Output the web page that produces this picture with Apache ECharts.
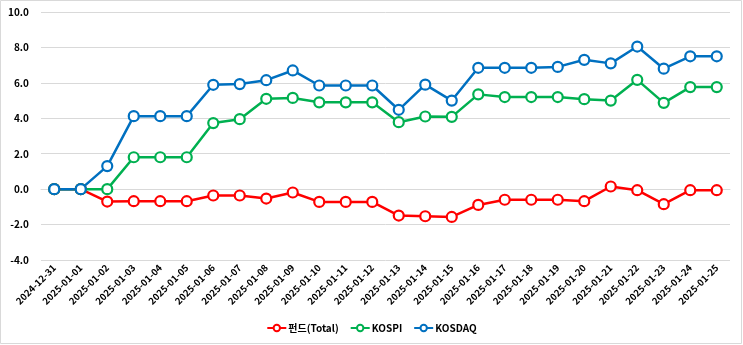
<!DOCTYPE html>
<html><head><meta charset="utf-8">
<script src="https://cdn.jsdelivr.net/npm/echarts@6/dist/echarts.min.js"></script>
<style>html,body{margin:0;padding:0;background:#fff}#c{width:743px;height:345px}</style>
</head><body><div id="c"></div>
<script>
const categories = ['2024-12-31','2025-01-01','2025-01-02','2025-01-03','2025-01-04','2025-01-05','2025-01-06','2025-01-07','2025-01-08','2025-01-09','2025-01-10','2025-01-11','2025-01-12','2025-01-13','2025-01-14','2025-01-15','2025-01-16','2025-01-17','2025-01-18','2025-01-19','2025-01-20','2025-01-21','2025-01-22','2025-01-23','2025-01-24','2025-01-25'];
const fund = [0.0,0.0,-0.70,-0.68,-0.68,-0.68,-0.36,-0.36,-0.53,-0.19,-0.72,-0.72,-0.72,-1.49,-1.53,-1.57,-0.89,-0.60,-0.60,-0.60,-0.68,0.15,-0.06,-0.85,-0.06,-0.06];
const kospi = [0.0,0.0,0.0,1.80,1.80,1.80,3.73,3.95,5.10,5.15,4.90,4.90,4.90,3.78,4.10,4.08,5.35,5.20,5.20,5.20,5.08,5.00,6.17,4.87,5.76,5.76];
const kosdaq = [0.0,0.0,1.30,4.12,4.12,4.12,5.89,5.93,6.15,6.70,5.85,5.85,5.85,4.48,5.90,5.00,6.85,6.85,6.85,6.90,7.30,7.10,8.05,6.80,7.50,7.50];
const seriesNames = ['펀드(Total)','KOSPI','KOSDAQ'];
const colors = ['#FF0000','#00B050','#0070C0'];

const font = '"Noto Sans CJK KR", "Noto Sans", sans-serif';
const chart = echarts.init(document.getElementById('c'));
function mk(name, data, color){
  return {name, type:'line', data, color,
    symbol:'circle', symbolSize:10, showSymbol:true,
    lineStyle:{width:2.5,color},
    itemStyle:{color:'#fff', borderColor:color, borderWidth:2.2},
    emphasis:{disabled:true}, animation:false};
}
chart.setOption({
  animation:false,
  graphic:[{type:'rect', shape:{x:0.5,y:0.5,width:741,height:343}, style:{fill:'none', stroke:'#D9D9D9', lineWidth:1}, silent:true}],
  grid:{left:41,right:13,top:12,bottom:85,containLabel:false},
  legend:{bottom:7, left:'center', itemWidth:19, itemHeight:8, itemGap:11,
    textStyle:{fontFamily:font, fontSize:10, fontWeight:'bold', color:'#000', padding:[0,0,0,-3]},
    data:seriesNames},
  xAxis:{type:'category', data:categories, boundaryGap:true,
    axisLine:{show:true, lineStyle:{color:'#D9D9D9'}}, axisTick:{show:false},
    axisLabel:{rotate:45, interval:0, fontFamily:font, fontSize:9.5, fontWeight:'bold', color:'#000', margin:6}},
  yAxis:{type:'value', min:-4, max:10, interval:2,
    axisLine:{show:false}, axisTick:{show:false},
    splitLine:{lineStyle:{color:'#D9D9D9', width:1}},
    axisLabel:{formatter:v=>v.toFixed(1), fontFamily:font, fontSize:10, fontWeight:'bold', color:'#000', margin:12}},
  series:[mk(seriesNames[0],fund,colors[0]), mk(seriesNames[1],kospi,colors[1]), mk(seriesNames[2],kosdaq,colors[2])]
});
</script></body></html>
